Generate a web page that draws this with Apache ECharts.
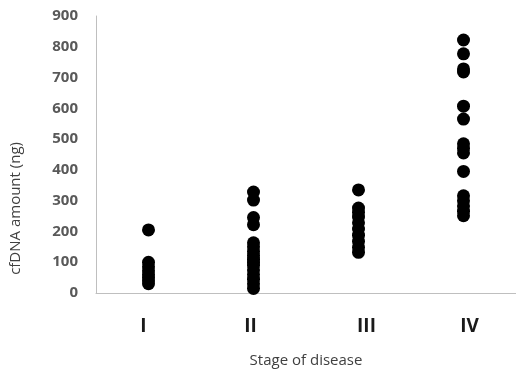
<!DOCTYPE html>
<html>
<head>
<meta charset="utf-8">
<script src="https://cdn.jsdelivr.net/npm/echarts@6/dist/echarts.min.js"></script>
<style>
  html, body { margin: 0; padding: 0; background: #fff; }
  #chart { width: 516px; height: 373px; }
</style>
</head>
<body>
<div id="chart"></div>
<script>
// stage categories
const stages = ['I', 'II', 'III', 'IV'];
// cfDNA values (ng)
const stageI = [205, 100, 85, 72, 60, 50, 40, 30];
const stageII = [328, 302, 245, 222, 163, 150, 135, 122, 110, 100, 90, 75, 60, 45, 30, 15];
const stageIII = [335, 276, 262, 247, 228, 208, 188, 168, 148, 132];
const stageIV = [822, 777, 728, 718, 607, 565, 485, 470, 455, 395, 316, 300, 283, 266, 251];
const yTicks = [0, 100, 200, 300, 400, 500, 600, 700, 800, 900];

const groups = [stageI, stageII, stageIII, stageIV];
const points = [];
groups.forEach((vals, i) => {
  vals.forEach(v => points.push([i, v]));
});

// labels in the original sit a little off the dot columns
const labelPad = [[0, 10, 0, 0], [0, 6, 0, 0], [0, 0, 0, 16], [0, 0, 0, 12]];
const catData = stages.map((s, i) => ({ value: s, textStyle: { padding: labelPad[i] } }));

const chart = echarts.init(document.getElementById('chart'));

const option = {
  animation: false,
  grid: {
    left: 96,
    right: -8,
    top: 16,
    bottom: 77
  },
  xAxis: {
    type: 'category',
    data: catData,
    boundaryGap: true,
    axisLine: { lineStyle: { color: '#bfbfbf', width: 1 } },
    axisTick: { show: false },
    axisLabel: {
      margin: 24,
      fontFamily: 'Open Sans',
      fontWeight: 'bold',
      fontSize: 19,
      color: '#1a1a1a'
    },
    name: 'Stage of disease',
    nameLocation: 'middle',
    nameGap: 60,
    nameTextStyle: {
      fontFamily: 'Open Sans',
      fontSize: 15,
      color: '#404040'
    },
    splitLine: { show: false }
  },
  yAxis: {
    type: 'value',
    min: yTicks[0],
    max: yTicks[yTicks.length - 1],
    interval: 100,
    axisLine: { show: true, lineStyle: { color: '#bfbfbf', width: 1 } },
    axisTick: { show: false },
    splitLine: { show: false },
    axisLabel: {
      margin: 18,
      fontFamily: 'Open Sans',
      fontWeight: 'bold',
      fontSize: 15,
      color: '#595959'
    }
  },
  graphic: [
    {
      type: 'text',
      left: 8,
      top: 142,
      rotation: Math.PI / 2,
      style: {
        text: 'cfDNA amount (ng)',
        fontFamily: 'Open Sans',
        fontSize: 15,
        fill: '#404040',
        textAlign: 'center',
        textVerticalAlign: 'middle'
      }
    }
  ],
  series: [
    {
      type: 'scatter',
      symbol: 'circle',
      symbolSize: 13,
      itemStyle: { color: '#000', opacity: 1 },
      data: points
    }
  ]
};

chart.setOption(option);
</script>
</body>
</html>
